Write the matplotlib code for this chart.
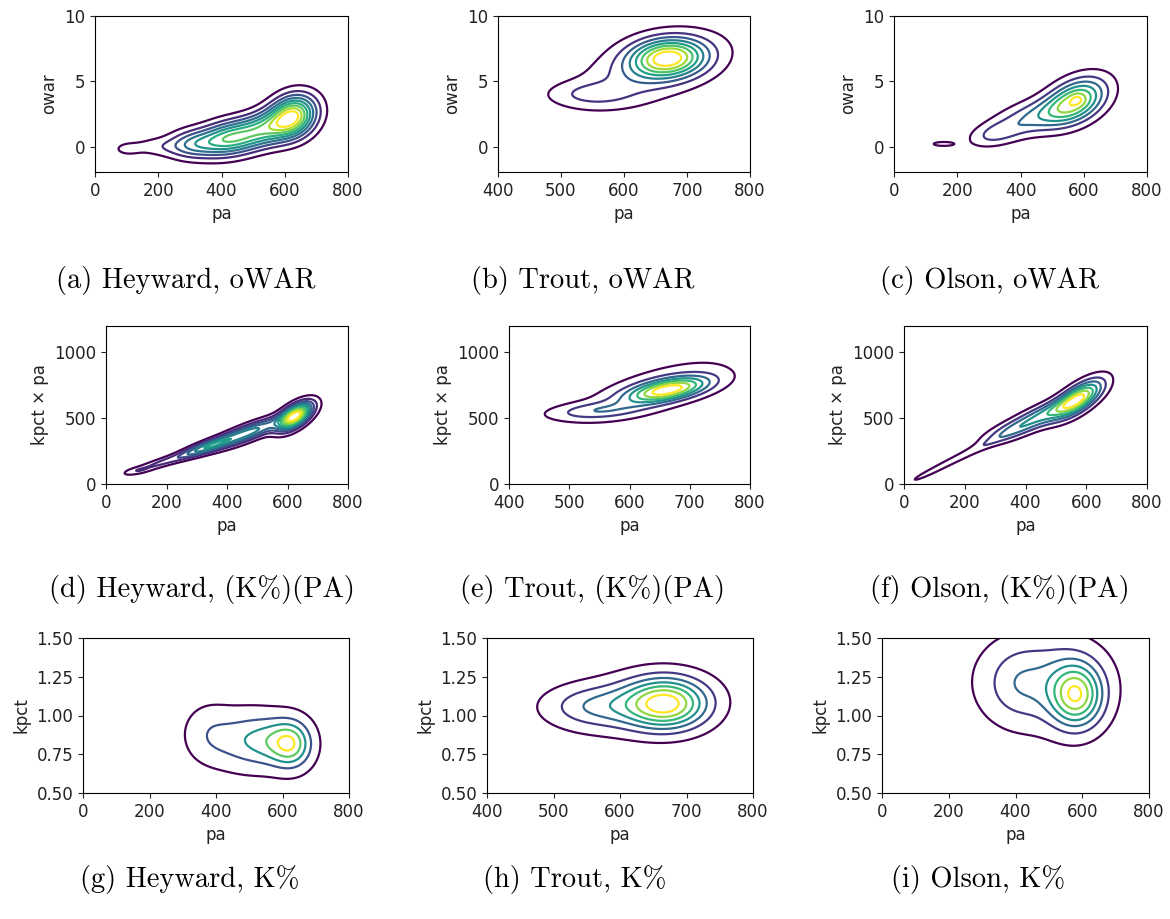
import numpy as np
import matplotlib.pyplot as plt

W_PX, H_PX, DPI = 1170, 919, 100

# density bumps:
# (pa, y, spread in pa, spread in y, correlation, height)
heyward_owar = [(625, 2.3, 50, 1.1, 0.2, 0.75),
                (530, 1.3, 60, 0.95, 0.3, 0.45),
                (420, 0.6, 60, 0.9, 0.2, 0.5),
                (310, 0.2, 55, 0.75, 0.1, 0.3),
                (190, 0.0, 60, 0.5, 0.0, 0.1),
                (100, -0.2, 30, 0.35, 0.0, 0.08)]
trout_owar = [(670, 6.8, 40, 1.0, 0.1, 1.0),
              (545, 4.0, 45, 0.65, 0.0, 0.2),
              (640, 5.8, 75, 1.8, 0.5, 0.3)]
olson_owar = [(575, 3.5, 65, 1.2, 0.4, 0.85),
              (580, 3.6, 15, 0.3, 0.0, 0.12),
              (450, 2.3, 90, 1.0, 0.5, 0.4),
              (320, 0.95, 55, 0.65, 0.4, 0.25),
              (155, 0.2, 33, 0.16, 0.0, 0.16)]
heyward_kpa = [(625, 515, 38, 70, 0.6, 1.0),
               (470, 390, 80, 80, 0.85, 0.5),
               (330, 280, 60, 55, 0.85, 0.45),
               (180, 160, 70, 55, 0.9, 0.18),
               (100, 100, 30, 20, 0.5, 0.08)]
trout_kpa = [(665, 715, 45, 65, 0.55, 1.0),
             (540, 555, 50, 45, 0.3, 0.3),
             (640, 710, 80, 150, 0.7, 0.25)]
olson_kpa = [(575, 650, 55, 100, 0.7, 1.0),
             (470, 540, 80, 90, 0.8, 0.55),
             (350, 400, 70, 75, 0.75, 0.35),
             (180, 200, 110, 125, 0.98, 0.2),
             (75, 75, 40, 45, 0.95, 0.07)]
heyward_k = [(628, 0.815, 40, 0.1, 0.0, 0.65),
             (580, 0.83, 50, 0.1, 0.0, 0.3),
             (500, 0.84, 70, 0.12, 0.0, 0.4),
             (380, 0.88, 50, 0.12, 0.0, 0.2)]
trout_k = [(670, 1.075, 42, 0.11, 0.0, 1.0),
           (560, 1.06, 50, 0.09, 0.0, 0.3),
           (620, 1.08, 70, 0.14, 0.2, 0.2)]
olson_k = [(583, 1.13, 53, 0.14, 0.0, 1.0),
           (480, 1.22, 120, 0.2, 0.0, 0.4),
           (400, 1.2, 60, 0.15, 0.0, 0.15)]

panels = [heyward_owar, trout_owar, olson_owar,
          heyward_kpa, trout_kpa, olson_kpa,
          heyward_k, trout_k, olson_k]
n_levels = [9, 8, 7, 10, 7, 7, 5, 7, 7]
level_lo = [0.08, 0.08, 0.1, 0.07, 0.08, 0.1, 0.08, 0.08, 0.08]
level_hi = [0.88, 0.88, 0.93, 0.88, 0.88, 0.88, 0.9, 0.88, 0.95]

captions = ["(a) Heyward, oWAR", "(b) Trout, oWAR", "(c) Olson, oWAR",
            "(d) Heyward, (K%)(PA)", "(e) Trout, (K%)(PA)", "(f) Olson, (K%)(PA)",
            "(g) Heyward, K%", "(h) Trout, K%", "(i) Olson, K%"]
ylabels = ["owar"] * 3 + ["kpct \u00d7 pa"] * 3 + ["kpct"] * 3
xlims = [(0, 800), (400, 800), (0, 800)] * 3
ylims = [(-1.95, 10)] * 3 + [(0, 1200)] * 3 + [(0.5, 1.5)] * 3
xticks_wide = [0, 200, 400, 600, 800]
xticks_trout = [400, 500, 600, 700, 800]
yticks_owar = [0, 5, 10]
yticks_kpa = [0, 500, 1000]
yticks_k = [0.5, 0.75, 1.0, 1.25, 1.5]

# axes boxes in pixels: left, top, right, bottom
boxes = [(95, 16, 348, 172), (498, 16, 750, 172), (894, 16, 1147, 172),
         (106, 326, 348, 484), (509, 326, 750, 484), (904, 326, 1147, 484),
         (83, 638, 349, 793), (487, 638, 753, 793), (882, 638, 1149, 793)]
cap_pos = [(186, 280), (583, 280), (990, 280),
           (202, 590), (593, 590), (1000, 590),
           (190, 880), (575, 880), (978, 880)]


def density(comps, X, Y):
    Z = np.zeros_like(X)
    for mx, my, sx, sy, rho, w in comps:
        dx = (X - mx) / sx
        dy = (Y - my) / sy
        q = (dx ** 2 - 2 * rho * dx * dy + dy ** 2) / (1 - rho ** 2)
        Z += w * np.exp(-0.5 * q)
    return Z


fig = plt.figure(figsize=(W_PX / DPI, H_PX / DPI), dpi=DPI)

for i, comps in enumerate(panels):
    l, t, r, b = boxes[i]
    ax = fig.add_axes([l / W_PX, 1 - b / H_PX, (r - l) / W_PX, (b - t) / H_PX])
    x0, x1 = xlims[i]
    y0, y1 = ylims[i]
    dy = y1 - y0
    xs = np.linspace(x0 - 50, x1 + 50, 400)
    ys = np.linspace(y0 - 0.1 * dy, y1 + 0.1 * dy, 400)
    X, Y = np.meshgrid(xs, ys)
    Z = density(comps, X, Y)
    lev = np.linspace(level_lo[i], level_hi[i], n_levels[i]) * Z.max()
    ax.contour(X, Y, Z, levels=lev, cmap="viridis", linewidths=1.6)

    ax.set_xlim(x0, x1)
    ax.set_ylim(y0, y1)
    ax.set_xticks(xticks_trout if i % 3 == 1 else xticks_wide)
    if i < 3:
        ax.set_yticks(yticks_owar)
    elif i < 6:
        ax.set_yticks(yticks_kpa)
    else:
        ax.set_yticks(yticks_k)
        ax.set_yticklabels(["%.2f" % v for v in yticks_k])
    ax.tick_params(labelsize=12, colors="#222222")
    ax.set_xlabel("pa", fontsize=12, color="#222222")
    ax.set_ylabel(ylabels[i], fontsize=12, color="#222222")

    cx, cy = cap_pos[i]
    fig.text(cx / W_PX, 1 - cy / H_PX, captions[i], ha="center", va="center",
             fontsize=20.5, family="cmr10")

fig.savefig("out.png", dpi=DPI)
